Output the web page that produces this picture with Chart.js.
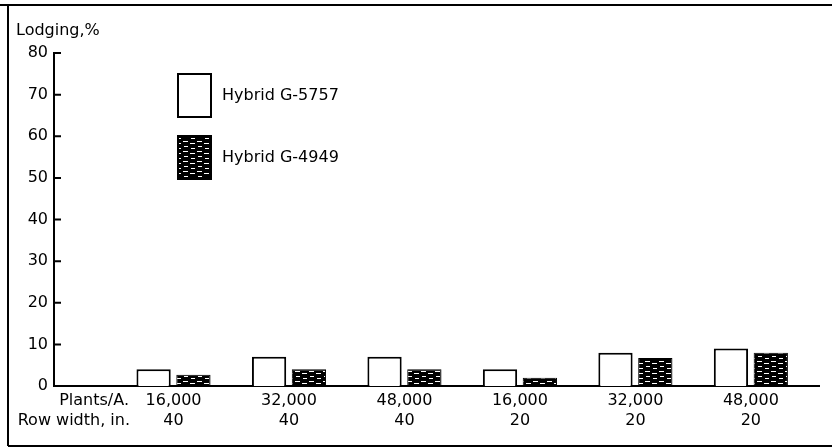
<!DOCTYPE html>
<html>
<head>
<meta charset="utf-8">
<script src="https://cdn.jsdelivr.net/npm/chart.js@4"></script>
<style>
    html, body { margin: 0; padding: 0; background: #fff; }
    #wrap { width: 832px; height: 448px; position: relative; }
</style>
</head>
<body>
<div id="wrap"><canvas id="lodgingChart"></canvas></div>
<script>
// Chart data
const plantsPerAcre = ['16,000', '32,000', '48,000', '16,000', '32,000', '48,000'];
const rowWidths = ['40', '40', '40', '20', '20', '20'];
const hybridG5757 = [4, 7, 7, 4, 8, 9];
const hybridG4949 = [2.7, 4, 4, 2, 6.7, 8];
const seriesNames = ['Hybrid G-5757', 'Hybrid G-4949'];
const yTicks = [0, 10, 20, 30, 40, 50, 60, 70, 80];

const FONT = '"DejaVu Sans", sans-serif';

// Black fill with white dashes, like the printed hatching
function makeHatch() {
    const c = document.createElement('canvas');
    c.width = 14;
    c.height = 10;
    const g = c.getContext('2d');
    g.fillStyle = '#000';
    g.fillRect(0, 0, 14, 10);
    g.fillStyle = '#fff';
    g.fillRect(1, 1, 5, 1);
    g.fillRect(8, 3, 5, 1);
    g.fillRect(2, 6, 4, 1);
    g.fillRect(9, 8, 4, 1);
    return g.createPattern(c, 'repeat');
}

const hatch = makeHatch();

// Frame, axis title, row captions, y tick marks and legend
const extrasPlugin = {
    id: 'extras',
    afterDraw(chart) {
        const ctx = chart.ctx;
        const y = chart.scales.y;
        const area = chart.chartArea;
        ctx.save();

        ctx.strokeStyle = '#000';
        ctx.lineWidth = 2;
        ctx.beginPath();
        ctx.moveTo(0, 5); ctx.lineTo(832, 5);
        ctx.moveTo(8, 5); ctx.lineTo(8, 446);
        ctx.moveTo(8, 446); ctx.lineTo(832, 446);
        ctx.stroke();

        ctx.beginPath();
        yTicks.forEach(v => {
            const py = y.getPixelForValue(v);
            ctx.moveTo(area.left, py);
            ctx.lineTo(area.left + 7, py);
        });
        ctx.stroke();

        ctx.fillStyle = '#000';
        ctx.font = '16px ' + FONT;
        ctx.textBaseline = 'middle';
        ctx.textAlign = 'left';
        ctx.fillText('Lodging,%', 16, 31);

        ctx.textAlign = 'right';
        ctx.fillText('Plants/A.', 129, 401);
        ctx.fillText('Row width, in.', 130, 421);

        // legend
        const boxes = [74, 136];
        chart.data.datasets.forEach((ds, i) => {
            ctx.fillStyle = ds.backgroundColor;
            ctx.fillRect(178, boxes[i], 33, 43);
            ctx.strokeRect(178, boxes[i], 33, 43);
            ctx.fillStyle = '#000';
            ctx.textAlign = 'left';
            ctx.fillText(ds.label, 222, boxes[i] + 22);
        });
        ctx.restore();
    }
};

document.addEventListener('DOMContentLoaded', function() {
    const ctx = document.getElementById('lodgingChart');

    new Chart(ctx, {
        type: 'bar',
        data: {
            datasets: [
                {
                    label: seriesNames[0],
                    data: hybridG5757.map((v, i) => ({ x: i + 1, y: v })),
                    backgroundColor: '#ffffff',
                    borderColor: '#000',
                    borderWidth: 2,
                    borderSkipped: 'bottom'
                },
                {
                    label: seriesNames[1],
                    data: hybridG4949.map((v, i) => ({ x: i + 1, y: v })),
                    backgroundColor: hatch,
                    borderColor: '#000',
                    borderWidth: 1,
                    borderSkipped: 'bottom'
                }
            ]
        },
        options: {
            responsive: true,
            maintainAspectRatio: false,
            animation: false,
            categoryPercentage: 0.69,
            barPercentage: 0.86,
            layout: {
                padding: { top: 53, right: 13, left: 0, bottom: 0 }
            },
            scales: {
                x: {
                    type: 'linear',
                    min: -0.035,
                    max: 6.59,
                    offset: false,
                    grid: { display: false, drawTicks: false },
                    border: { color: '#000', width: 2 },
                    afterBuildTicks: function(scale) {
                        scale.ticks = plantsPerAcre.map((p, i) => ({ value: i + 1 }));
                    },
                    afterFit: function(scale) {
                        scale.height = 62;
                    },
                    ticks: {
                        autoSkip: false,
                        maxRotation: 0,
                        padding: 5,
                        color: '#000',
                        font: { family: FONT, size: 16, lineHeight: 1.25 },
                        callback: function(value) {
                            const i = Math.round(value) - 1;
                            return [plantsPerAcre[i], rowWidths[i]];
                        }
                    }
                },
                y: {
                    min: 0,
                    max: 80,
                    grid: { display: false, drawTicks: false },
                    border: { color: '#000', width: 2 },
                    afterFit: function(scale) {
                        scale.width = 54;
                    },
                    afterBuildTicks: function(scale) {
                        scale.ticks = yTicks.map(v => ({ value: v }));
                    },
                    ticks: {
                        padding: 6,
                        color: '#000',
                        font: { family: FONT, size: 16 }
                    }
                }
            },
            plugins: {
                legend: { display: false },
                tooltip: { enabled: false }
            }
        },
        plugins: [extrasPlugin]
    });
});
</script>
</body>
</html>
